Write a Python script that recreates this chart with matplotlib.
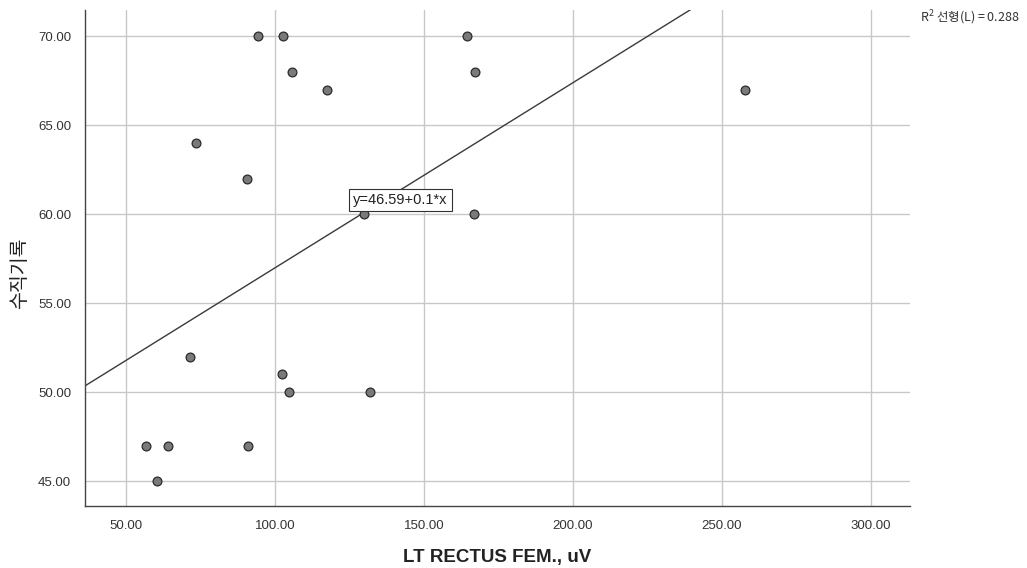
import matplotlib as mpl
import matplotlib.pyplot as plt
import numpy as np

mpl.rcParams['font.family'] = ['Liberation Sans', 'Noto Sans CJK KR', 'DejaVu Sans']
mpl.rcParams['axes.unicode_minus'] = False

# muscle activity (uV) vs vertical record
rectus_fem = [94.3, 102.7, 105.7, 117.4, 164.4, 167.1, 257.7, 73.6, 90.5,
              129.9, 166.8, 71.5, 102.3, 104.7, 131.9, 56.7, 64.1, 90.9, 60.4]
vertical = [70, 70, 68, 67, 70, 68, 67, 64, 62,
            60, 60, 52, 51, 50, 50, 47, 47, 47, 45]

b0 = 46.59
b1 = 0.104
r2 = 0.288

xlim = [36.2, 313.1]
ylim = [43.6, 71.46]
xticks = [50, 100, 150, 200, 250, 300]
yticks = [45, 50, 55, 60, 65, 70]

fig = plt.figure(figsize=(10.27, 5.68), dpi=100)
ax = fig.add_axes([0.0828, 0.109, 0.886 - 0.0828, 0.982 - 0.109])

ax.grid(True, color='#c8c8c8', linewidth=1.0)
ax.set_axisbelow(True)

xs = np.array(xlim)
ax.plot(xs, b0 + b1 * xs, color='#3a3a3a', lw=1.0, zorder=2)

ax.scatter(rectus_fem, vertical, s=40, facecolor='#7a7a7a', edgecolor='#2a2a2a',
           linewidth=0.9, zorder=3)

ax.text(142, 60.8, 'y=%.2f+%.1f*x' % (b0, b1), ha='center', va='center',
        fontsize=10.5, color='#222222', zorder=4,
        bbox=dict(boxstyle='square,pad=0.3', facecolor='white', edgecolor='#333333', lw=0.8))

ax.set_xlim(xlim)
ax.set_ylim(ylim)
ax.set_xticks(xticks)
ax.set_yticks(yticks)
ax.set_xticklabels(['%.2f' % v for v in xticks])
ax.set_yticklabels(['%.2f' % v for v in yticks])
ax.tick_params(axis='both', length=0, labelsize=9.5, colors='#333333', pad=10)

for side in ['top', 'right']:
    ax.spines[side].set_visible(False)
for side in ['left', 'bottom']:
    ax.spines[side].set_color('#444444')
    ax.spines[side].set_linewidth(1.0)

ax.set_xlabel('LT RECTUS FEM., uV', fontsize=13.5, fontweight='bold',
              color='#222222', labelpad=12)
ax.set_ylabel('수직기록', fontsize=14, color='#222222',
              family=['Noto Sans CJK KR', 'DejaVu Sans'])
ax.yaxis.set_label_coords(-0.067, 0.47)

fig.text(0.896, 0.962, '$\\mathregular{R^2}$ 선형(L) = %.3f' % r2, fontsize=9,
         color='#333333', family=['Noto Sans CJK KR', 'DejaVu Sans'])

fig.savefig('out.png', dpi=100)
